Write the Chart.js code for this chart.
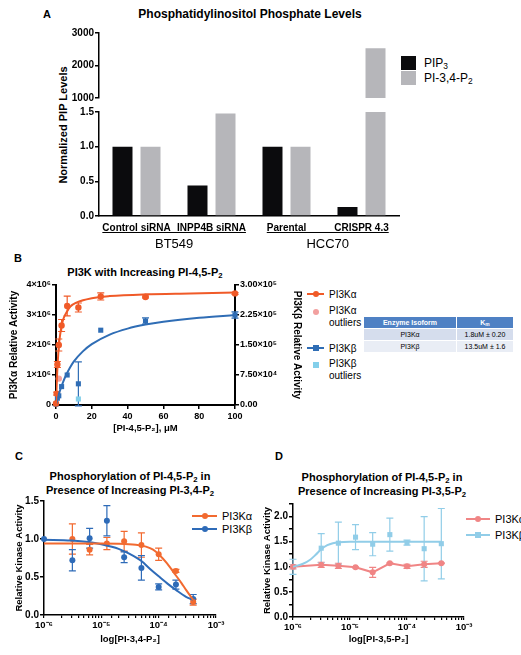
<!DOCTYPE html>
<html>
<head>
<meta charset="utf-8">
<script src="https://cdn.jsdelivr.net/npm/chart.js@4.4.1/dist/chart.umd.min.js"></script>
<style>
    body { margin: 0; width: 521px; height: 655px; position: relative; overflow: hidden; background: #fff;
           font-family: "Liberation Sans", Arial, sans-serif; color: #000; }
    canvas, .abs { position: absolute; }
    .t { position: absolute; transform: translate(-50%, -50%); white-space: nowrap; }
    .b { font-weight: bold; }
    .rot { transform: translate(-50%, -50%) rotate(-90deg); }
    sub { font-size: 70%; vertical-align: -0.25em; line-height: 0; }
    .tbl { position: absolute; left: 363px; top: 316px; border-collapse: separate; border-spacing: 1px 1px; font-size: 7px; }
    .tbl td { text-align: center; padding: 0; height: 11px; }
    .tbl .h td { background: #4f81c4; color: #fff; font-weight: bold; }
</style>
</head>
<body>

<!-- panel A texts -->
<div class="t b" style="left:47px;top:14px;font-size:11px">A</div>
<div class="t b" style="left:250px;top:14px;font-size:12px">Phosphatidylinositol Phosphate Levels</div>
<div class="t b rot" style="left:63px;top:125px;font-size:11px">Normalized PIP Levels</div>
<div class="abs" style="left:401px;top:56px;width:15px;height:14px;background:#0b0b0d"></div>
<div class="abs" style="left:401px;top:71px;width:15px;height:14px;background:#b6b6ba"></div>
<div class="t" style="left:424px;top:63px;font-size:12px;transform:translate(0,-50%)">PIP<sub>3</sub></div>
<div class="t" style="left:424px;top:78px;font-size:12px;transform:translate(0,-50%)">PI-3,4-P<sub>2</sub></div>

<!-- panel B texts -->
<div class="t b" style="left:18px;top:258px;font-size:11px">B</div>
<div class="t b" style="left:145px;top:272px;font-size:11px">PI3K with Increasing PI-4,5-P<sub>2</sub></div>
<div class="abs" style="left:307px;top:293px;width:17px;height:2px;background:#f05a28"></div>
<div class="abs" style="left:312.5px;top:291px;width:6px;height:6px;border-radius:50%;background:#f05a28"></div>
<div class="t" style="left:329px;top:294px;font-size:10px;transform:translate(0,-50%)">PI3Kα</div>
<div class="abs" style="left:312.5px;top:309px;width:6px;height:6px;border-radius:50%;background:#f2a09f"></div>
<div class="abs" style="left:329px;top:305px;font-size:10px;line-height:12px">PI3Kα<br>outliers</div>
<div class="abs" style="left:307px;top:347px;width:17px;height:2px;background:#2f6db5"></div>
<div class="abs" style="left:312.5px;top:345px;width:6px;height:6px;background:#2f6db5"></div>
<div class="t" style="left:329px;top:348px;font-size:10px;transform:translate(0,-50%)">PI3Kβ</div>
<div class="abs" style="left:312.5px;top:362px;width:6px;height:6px;background:#83cfea"></div>
<div class="abs" style="left:329px;top:358px;font-size:10px;line-height:12px">PI3Kβ<br>outliers</div>
<table class="tbl">
    <tr class="h"><td style="width:92px">Enzyme Isoform</td><td style="width:56px">K<sub>m</sub></td></tr>
    <tr><td style="background:#d5dded">PI3Kα</td><td style="background:#d5dded">1.8uM ± 0.20</td></tr>
    <tr><td style="background:#e9edf5">PI3Kβ</td><td style="background:#e9edf5">13.5uM ± 1.6</td></tr>
</table>

<!-- panel C texts -->
<div class="t b" style="left:19px;top:456px;font-size:11px">C</div>
<div class="t b" style="left:130px;top:483px;font-size:11px;line-height:14px;text-align:center">Phosphorylation of PI-4,5-P<sub>2</sub> in<br>Presence of Increasing PI-3,4-P<sub>2</sub></div>
<div class="abs" style="left:192px;top:515px;width:25px;height:2px;background:#f26a30"></div>
<div class="abs" style="left:201.5px;top:513px;width:6px;height:6px;border-radius:50%;background:#f26a30"></div>
<div class="t" style="left:222px;top:516px;font-size:11px;transform:translate(0,-50%)">PI3Kα</div>
<div class="abs" style="left:192px;top:528px;width:25px;height:2px;background:#2e6bb8"></div>
<div class="abs" style="left:201.5px;top:526px;width:6px;height:6px;border-radius:50%;background:#2e6bb8"></div>
<div class="t" style="left:222px;top:529px;font-size:11px;transform:translate(0,-50%)">PI3Kβ</div>

<!-- panel D texts -->
<div class="t b" style="left:279px;top:456px;font-size:11px">D</div>
<div class="t b" style="left:382px;top:484px;font-size:11px;line-height:14px;text-align:center">Phosphorylation of PI-4,5-P<sub>2</sub> in<br>Presence of Increasing PI-3,5-P<sub>2</sub></div>
<div class="abs" style="left:466px;top:518px;width:24px;height:2px;background:#f08585"></div>
<div class="abs" style="left:475px;top:516px;width:6px;height:6px;border-radius:50%;background:#f08585"></div>
<div class="t" style="left:495px;top:519px;font-size:11px;transform:translate(0,-50%)">PI3Kα</div>
<div class="abs" style="left:466px;top:534px;width:24px;height:2px;background:#91cde8"></div>
<div class="abs" style="left:475px;top:532px;width:6px;height:6px;background:#91cde8"></div>
<div class="t" style="left:495px;top:535px;font-size:11px;transform:translate(0,-50%)">PI3Kβ</div>

<canvas id="aHigh" width="390" height="80" style="left:20px;top:25px"></canvas>
<canvas id="aLow" width="390" height="160" style="left:20px;top:105px"></canvas>
<canvas id="bChart" width="310" height="160" style="left:0px;top:278px"></canvas>
<canvas id="cChart" width="260" height="156" style="left:0px;top:494px"></canvas>
<canvas id="dChart" width="261" height="153" style="left:260px;top:497px"></canvas>

<script>
// ---------- A: PIP levels (broken axis) ----------
const aGroups = ["Control siRNA", "INPP4B siRNA", "Parental", "CRISPR 4.3"];
const aCellLines = ["BT549", "HCC70"];
const aPip3 = [1.0, 0.44, 1.0, 0.13];
const aPi34p2 = [1.0, 1.48, 1.0, 2530];
const aLowTicks = [0, 0.5, 1.0, 1.5];
const aHighTicks = [1000, 2000, 3000];

// ---------- B: PI3K vs PI-4,5-P2 ----------
const bAlphaX = [0, 0.39, 0.78, 1.56, 3.125, 6.25, 12.5, 25, 50, 100];
const bAlphaY = [0.05e6, 0.38e6, 1.35e6, 2.0e6, 2.65e6, 3.3e6, 3.25e6, 3.62e6, 3.6e6, 3.72e6];
const bAlphaErr = [0, 0.05e6, 0.1e6, 0.2e6, 0.2e6, 0.33e6, 0.15e6, 0.12e6, 0.03e6, 0.03e6];
const bAlphaOutX = [1.56];
const bAlphaOutY = [0.88e6];
const bBetaX = [0, 0.78, 1.56, 3.125, 6.25, 12.5, 25, 50, 100];
const bBetaY = [0.02e5, 0.17e5, 0.23e5, 0.46e5, 0.75e5, 0.53e5, 1.87e5, 2.1e5, 2.25e5];
const bBetaErr = [0, 0, 0, 0, 0, 0.55e5, 0, 0.08e5, 0.08e5];
const bBetaOutX = [12.5];
const bBetaOutY = [0.15e5];
const bAlphaFitX = [0, 0.5, 1, 1.5, 2, 3, 4, 6, 8, 12, 20, 30, 50, 75, 100];
const bAlphaFitY = [0, 0.85e6, 1.45e6, 1.9e6, 2.2e6, 2.6e6, 2.85e6, 3.1e6, 3.28e6, 3.43e6, 3.56e6, 3.63e6, 3.69e6, 3.72e6, 3.75e6];
const bBetaFitX = [0, 2, 4, 6, 8, 10, 15, 20, 30, 40, 50, 60, 80, 100];
const bBetaFitY = [0, 0.33e5, 0.58e5, 0.78e5, 0.95e5, 1.09e5, 1.34e5, 1.52e5, 1.76e5, 1.91e5, 2.01e5, 2.08e5, 2.18e5, 2.25e5];
const bLeftTicks = [0, 1e6, 2e6, 3e6, 4e6];
const bLeftLabels = ["0", "1×10⁶", "2×10⁶", "3×10⁶", "4×10⁶"];
const bRightTicks = [0, 7.5e4, 1.5e5, 2.25e5, 3e5];
const bRightLabels = ["0.00", "7.50×10⁴", "1.50×10⁵", "2.25×10⁵", "3.00×10⁵"];

// ---------- C: with PI-3,4-P2 ----------
const cAlphaX = [3.125e-6, 6.25e-6, 12.5e-6, 25e-6, 50e-6, 100e-6, 200e-6, 400e-6];
const cAlphaY = [1.0, 0.86, 0.94, 0.97, 0.92, 0.80, 0.58, 0.17];
const cAlphaErr = [0.2, 0.07, 0.08, 0.13, 0.16, 0.08, 0.02, 0.04];
const cBetaX = [1e-6, 3.125e-6, 6.25e-6, 12.5e-6, 25e-6, 50e-6, 100e-6, 200e-6, 400e-6];
const cBetaY = [1.0, 0.72, 1.01, 1.24, 0.76, 0.62, 0.37, 0.40, 0.21];
const cBetaErr = [0, 0.14, 0.13, 0.2, 0.07, 0.16, 0.04, 0.06, 0.06];
const cAlphaFitX = [1e-6, 1e-5, 2e-5, 4e-5, 6e-5, 8e-5, 1e-4, 1.4e-4, 2e-4, 2.5e-4, 3e-4, 4e-4];
const cAlphaFitY = [0.94, 0.94, 0.938, 0.925, 0.9, 0.86, 0.8, 0.68, 0.52, 0.42, 0.33, 0.2];
const cBetaFitX = [1e-6, 3e-6, 6e-6, 1e-5, 2e-5, 3e-5, 5e-5, 7e-5, 1e-4, 1.5e-4, 2e-4, 3e-4, 4e-4];
const cBetaFitY = [0.99, 0.98, 0.96, 0.93, 0.87, 0.81, 0.71, 0.61, 0.51, 0.4, 0.33, 0.24, 0.2];
const cYTicks = [0, 0.5, 1.0, 1.5];

// ---------- D: with PI-3,5-P2 ----------
const dConc = [1e-6, 3.125e-6, 6.25e-6, 12.5e-6, 25e-6, 50e-6, 100e-6, 200e-6, 400e-6];
const dAlphaY = [1.0, 1.04, 1.02, 0.99, 0.89, 1.07, 1.01, 1.05, 1.07];
const dAlphaErr = [0.04, 0.05, 0.05, 0.01, 0.1, 0.01, 0.04, 0.06, 0.01];
const dBetaY = [1.0, 1.37, 1.47, 1.59, 1.45, 1.64, 1.48, 1.36, 1.46];
const dBetaErr = [0.15, 0.29, 0.42, 0.25, 0.23, 0.33, 0.05, 0.64, 0.7];
const dBetaFitX = [1e-6, 1.5e-6, 2e-6, 2.5e-6, 3.125e-6, 4e-6, 5e-6, 6.25e-6, 1e-5, 1e-4, 4e-4];
const dBetaFitY = [1.0, 1.06, 1.14, 1.24, 1.35, 1.43, 1.47, 1.49, 1.5, 1.5, 1.5];
const dYTicks = [0, 0.25, 0.5, 0.75, 1.0, 1.25, 1.5, 1.75, 2.0, 2.25];
const dYLabels = ["0.0", "", "0.5", "", "1.0", "", "1.5", "", "2.0", ""];

const logLabels = ["10⁻⁶", "10⁻⁵", "10⁻⁴", "10⁻³"];

Chart.defaults.font.family = '"Liberation Sans", Arial, sans-serif';
Chart.defaults.color = "#000";

const pts = (xs, ys) => xs.map((x, i) => ({ x: x, y: ys[i] }));

// vertical error bars from dataset.errors
const errorBars = {
    id: "errorBars",
    beforeDatasetsDraw(chart) {
        const ctx = chart.ctx;
        chart.data.datasets.forEach(ds => {
            if (!ds.errors) return;
            const xs = chart.scales.x, ys = chart.scales[ds.yAxisID || "y"];
            ctx.save();
            ctx.strokeStyle = ds.backgroundColor;
            ctx.lineWidth = 1.2;
            ds.data.forEach((p, j) => {
                const e = ds.errors[j];
                if (!e) return;
                const px = xs.getPixelForValue(p.x);
                const t = ys.getPixelForValue(p.y + e), b = ys.getPixelForValue(p.y - e);
                ctx.beginPath();
                ctx.moveTo(px, t); ctx.lineTo(px, b);
                ctx.moveTo(px - 3.5, t); ctx.lineTo(px + 3.5, t);
                ctx.moveTo(px - 3.5, b); ctx.lineTo(px + 3.5, b);
                ctx.stroke();
            });
            ctx.restore();
        });
    }
};

// cell line brackets under the category labels of panel A
const groupLines = {
    id: "groupLines",
    afterDraw(chart) {
        const x = chart.scales.x, ctx = chart.ctx;
        const y = chart.chartArea.bottom + 16;
        ctx.save();
        ctx.font = 'bold 10px "Liberation Sans", Arial, sans-serif';
        const half = i => ctx.measureText(aGroups[i]).width / 2;
        const spans = aCellLines.map((name, g) => [
            x.getPixelForValue(g * 2) - half(g * 2),
            x.getPixelForValue(g * 2 + 1) + half(g * 2 + 1)
        ]);
        ctx.strokeStyle = "#000";
        ctx.lineWidth = 1;
        ctx.fillStyle = "#000";
        ctx.font = '13px "Liberation Sans", Arial, sans-serif';
        ctx.textAlign = "center";
        ctx.textBaseline = "middle";
        aCellLines.forEach((name, g) => {
            const [l, r] = spans[g];
            ctx.beginPath(); ctx.moveTo(l, y + 0.5); ctx.lineTo(r, y + 0.5); ctx.stroke();
            ctx.fillText(name, (l + r) / 2, y + 12);
        });
        ctx.restore();
    }
};

const axisLine = { color: "#000", width: 1.5 };
const tickMarks = { drawOnChartArea: false, color: "#000", tickLength: 4, lineWidth: 1.5 };
const tickFont = { size: 10, weight: "bold" };
const base = {
    responsive: false, animation: false, devicePixelRatio: 1,
    plugins: { legend: { display: false }, tooltip: { enabled: false } }
};

// ----- A upper segment -----
new Chart(document.getElementById("aHigh"), {
    type: "bar",
    data: {
        labels: aGroups,
        datasets: [
            { data: aPip3.map(v => v >= aHighTicks[0] ? v : null), backgroundColor: "#0b0b0d", clip: 0 },
            { data: aPi34p2.map(v => v >= aHighTicks[0] ? v : null), backgroundColor: "#b6b6ba", clip: 0 }
        ]
    },
    options: {
        ...base,
        layout: { padding: { top: 8, right: 11, bottom: 6, left: 0 } },
        datasets: { bar: { categoryPercentage: 0.747, barPercentage: 0.714 } },
        scales: {
            x: { display: false },
            y: {
                min: aHighTicks[0], max: aHighTicks[aHighTicks.length - 1],
                grid: tickMarks, border: axisLine,
                ticks: { font: tickFont, padding: 1, callback: v => String(v) },
                afterBuildTicks: s => { s.ticks = aHighTicks.map(v => ({ value: v })); },
                afterFit: s => { s.width = 79; }
            }
        }
    }
});

// ----- A lower segment -----
new Chart(document.getElementById("aLow"), {
    type: "bar",
    data: {
        labels: aGroups,
        datasets: [
            { data: aPip3, backgroundColor: "#0b0b0d", clip: 0 },
            { data: aPi34p2, backgroundColor: "#b6b6ba", clip: 0 }
        ]
    },
    options: {
        ...base,
        layout: { padding: { top: 6, right: 11, bottom: 0, left: 0 } },
        datasets: { bar: { categoryPercentage: 0.747, barPercentage: 0.714 } },
        scales: {
            x: {
                grid: { display: false, drawTicks: false }, border: axisLine,
                ticks: { font: tickFont, padding: 6, maxRotation: 0, autoSkip: false },
                afterFit: s => { s.height = 49; }
            },
            y: {
                min: 0, max: 1.5,
                grid: tickMarks, border: axisLine,
                ticks: { font: tickFont, padding: 1, callback: v => v.toFixed(1) },
                afterBuildTicks: s => { s.ticks = aLowTicks.map(v => ({ value: v })); },
                afterFit: s => { s.width = 79; }
            }
        }
    },
    plugins: [groupLines]
});

// ----- B -----
const orangeB = "#f05a28", blueB = "#2f6db5";
new Chart(document.getElementById("bChart"), {
    type: "scatter",
    data: {
        datasets: [
            { data: pts(bAlphaFitX, bAlphaFitY), showLine: true, borderColor: orangeB, borderWidth: 2, pointRadius: 0, cubicInterpolationMode: "monotone" },
            { data: pts(bBetaFitX, bBetaFitY), yAxisID: "y2", showLine: true, borderColor: blueB, borderWidth: 2, pointRadius: 0, cubicInterpolationMode: "monotone" },
            { data: pts(bAlphaX, bAlphaY), errors: bAlphaErr, backgroundColor: orangeB, borderWidth: 0, pointRadius: 3.2, clip: false },
            { data: pts(bAlphaOutX, bAlphaOutY), backgroundColor: "#f2a09f", borderWidth: 0, pointRadius: 3.2, clip: false },
            { data: pts(bBetaX, bBetaY), yAxisID: "y2", errors: bBetaErr, backgroundColor: blueB, borderWidth: 0, pointStyle: "rect", pointRadius: 3.6, clip: false },
            { data: pts(bBetaOutX, bBetaOutY), yAxisID: "y2", backgroundColor: "#83cfea", borderWidth: 0, pointStyle: "rect", pointRadius: 3.6, clip: false }
        ]
    },
    options: {
        ...base,
        layout: { padding: { top: 7, right: 0, bottom: 0, left: 0 } },
        scales: {
            x: {
                type: "linear", min: 0, max: 100,
                grid: tickMarks, border: { color: "#000", width: 2 },
                ticks: { font: { size: 9, weight: "bold" }, stepSize: 20, padding: 2 },
                title: { display: true, text: "[PI-4,5-P₂], μM", font: { size: 9.5, weight: "bold" }, padding: { bottom: 4, top: 0 } },
                afterFit: s => { s.height = 33; }
            },
            y: {
                position: "left", min: 0, max: 4e6,
                grid: tickMarks, border: { color: "#000", width: 2 },
                ticks: { font: { size: 9, weight: "bold" }, padding: 1, callback: (v, i) => bLeftLabels[i] },
                afterBuildTicks: s => { s.ticks = bLeftTicks.map(v => ({ value: v })); },
                title: { display: true, text: "PI3Kα Relative Activity", font: { size: 10, weight: "bold" }, padding: { top: 8 } },
                afterFit: s => { s.width = 56; }
            },
            y2: {
                position: "right", min: 0, max: 3e5,
                grid: tickMarks, border: { color: "#000", width: 2 },
                ticks: { font: { size: 9, weight: "bold" }, padding: 1, callback: (v, i) => bRightLabels[i] },
                afterBuildTicks: s => { s.ticks = bRightTicks.map(v => ({ value: v })); },
                title: { display: true, text: "PI3Kβ Relative Activity", font: { size: 10, weight: "bold" }, padding: { top: 7 } },
                afterFit: s => { s.width = 75; }
            }
        }
    },
    plugins: [errorBars]
});

// log axis shared options for C and D
const logX = (title, height) => ({
    type: "logarithmic", min: 1e-6, max: 1e-3,
    grid: { drawOnChartArea: false, color: "#000", tickLength: 3, lineWidth: 1.2 },
    border: axisLine,
    ticks: {
        font: { size: 9.5, weight: "bold" }, autoSkip: false, maxRotation: 0, padding: 2,
        callback: v => {
            const d = Math.log10(v);
            return Math.abs(d - Math.round(d)) < 1e-6 ? logLabels[Math.round(d) + 6] : "";
        }
    },
    title: { display: true, text: title, font: { size: 9.5, weight: "bold" }, padding: { bottom: 5, top: 0 } },
    afterFit: s => { s.height = height; }
});

// ----- C -----
const orangeC = "#f26a30", blueC = "#2e6bb8";
new Chart(document.getElementById("cChart"), {
    type: "scatter",
    data: {
        datasets: [
            { data: pts(cAlphaFitX, cAlphaFitY), showLine: true, borderColor: orangeC, borderWidth: 2, pointRadius: 0, cubicInterpolationMode: "monotone" },
            { data: pts(cBetaFitX, cBetaFitY), showLine: true, borderColor: blueC, borderWidth: 2, pointRadius: 0, cubicInterpolationMode: "monotone" },
            { data: pts(cAlphaX, cAlphaY), errors: cAlphaErr, backgroundColor: orangeC, borderWidth: 0, pointRadius: 3, clip: false },
            { data: pts(cBetaX, cBetaY), errors: cBetaErr, backgroundColor: blueC, borderWidth: 0, pointRadius: 3, clip: false }
        ]
    },
    options: {
        ...base,
        layout: { padding: { top: 6, right: 44, bottom: 0, left: 0 } },
        scales: {
            x: logX("log[PI-3,4-P₂]", 35),
            y: {
                min: 0, max: 1.5,
                grid: tickMarks, border: axisLine,
                ticks: { font: tickFont, padding: 1, callback: v => v.toFixed(1) },
                afterBuildTicks: s => { s.ticks = cYTicks.map(v => ({ value: v })); },
                title: { display: true, text: "Relative Kinase Activity", font: { size: 9.5, weight: "bold" }, padding: { top: 14 } },
                afterFit: s => { s.width = 44; }
            }
        }
    },
    plugins: [errorBars]
});

// ----- D -----
const salmonD = "#f08585", lightD = "#91cde8";
new Chart(document.getElementById("dChart"), {
    type: "scatter",
    data: {
        datasets: [
            { data: pts(dBetaFitX, dBetaFitY), showLine: true, borderColor: lightD, borderWidth: 2, pointRadius: 0, cubicInterpolationMode: "monotone" },
            { data: pts(dConc, dAlphaY), errors: dAlphaErr, showLine: true, borderColor: salmonD, borderWidth: 2, backgroundColor: salmonD, pointRadius: 3, pointBorderWidth: 0, clip: false },
            { data: pts(dConc, dBetaY), errors: dBetaErr, backgroundColor: lightD, borderWidth: 0, pointStyle: "rect", pointRadius: 3.6, clip: false }
        ]
    },
    options: {
        ...base,
        layout: { padding: { top: 6, right: 57, bottom: 0, left: 0 } },
        scales: {
            x: logX("log[PI-3,5-P₂]", 33),
            y: {
                min: 0, max: 2.25,
                grid: tickMarks, border: axisLine,
                ticks: { font: tickFont, padding: 1, autoSkip: false, callback: (v, i) => dYLabels[i] },
                afterBuildTicks: s => { s.ticks = dYTicks.map(v => ({ value: v })); },
                title: { display: true, text: "Relative Kinase Activity", font: { size: 9.5, weight: "bold" }, padding: { top: 2 } },
                afterFit: s => { s.width = 33; }
            }
        }
    },
    plugins: [errorBars]
});
</script>
</body>
</html>
